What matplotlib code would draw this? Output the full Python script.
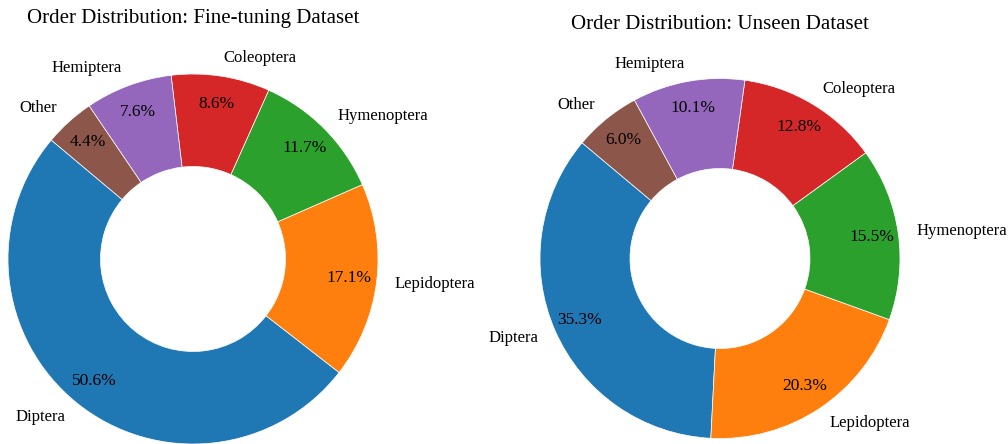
import matplotlib
matplotlib.use("Agg")
import matplotlib.pyplot as plt

plt.rcParams["font.family"] = ["Liberation Serif", "DejaVu Serif"]

orders = ["Diptera", "Lepidoptera", "Hymenoptera", "Coleoptera", "Hemiptera", "Other"]
finetune_pct = [50.6, 17.1, 11.7, 8.6, 7.6, 4.4]
unseen_pct = [35.3, 20.3, 15.5, 12.8, 10.1, 6.0]
titles = ["Order Distribution: Fine-tuning Dataset", "Order Distribution: Unseen Dataset"]

colors = ["#1f77b4", "#ff7f0e", "#2ca02c", "#d62728", "#9467bd", "#8c564b"]

W, H = 1008, 444
fig = plt.figure(figsize=(W / 100, H / 100), dpi=100)


def add_donut(cx, cy, r, values, title, title_y):
    # pie with frame off spans +-1.25 data units, so the axes side is 2.5 radii
    side = 2.5 * r
    ax = fig.add_axes([(cx - side / 2) / W, (H - cy - side / 2) / H, side / W, side / H])
    _, label_texts, pct_texts = ax.pie(
        values,
        labels=orders,
        colors=colors,
        startangle=140,
        autopct="%1.1f%%",
        pctdistance=0.85,
        labeldistance=1.1,
        wedgeprops=dict(width=0.5, edgecolor="white", linewidth=0.5),
        textprops=dict(fontsize=12),
    )
    for t in pct_texts:
        t.set_fontsize(12.5)
    ax.set_aspect("equal")
    # title placed in figure pixels
    fig.text(cx / W, 1 - title_y / H, title, ha="center", va="baseline", fontsize=15)
    return ax


add_donut(193, 259, 185, finetune_pct, titles[0], 23)
add_donut(720, 258.5, 180, unseen_pct, titles[1], 29)

fig.savefig("out.png", dpi=100)
